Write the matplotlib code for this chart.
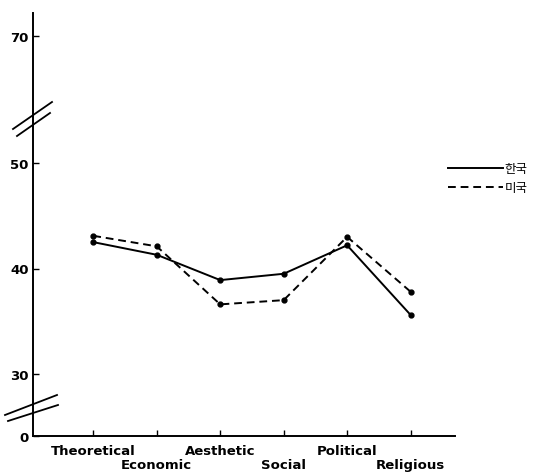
import numpy as np
import matplotlib
matplotlib.use("Agg")
import matplotlib.pyplot as plt
from matplotlib.lines import Line2D

categories = ["Theoretical", "Economic", "Aesthetic", "Social", "Political", "Religious"]
korea = [42.5, 41.3, 38.9, 39.5, 42.2, 35.6]
usa = [43.1, 42.1, 36.6, 37.0, 43.0, 37.8]
series_names = ["한국", "미국"]
ytick_values = [0, 30, 40, 50, 70]

plt.rcParams['font.family'] = ['DejaVu Sans']

# broken axis: piecewise-linear scale (value -> pixel-like units)
vals_k = np.array([0, 30, 50, 70, 100])
pix_k = np.array([0, 62, 273, 400, 590.5])

def fwd(v):
    return np.interp(v, vals_k, pix_k)

def inv(p):
    return np.interp(p, pix_k, vals_k)

W, H = 538, 477
fig = plt.figure(figsize=(W / 100, H / 100), dpi=100)
ax_left, ax_right, ax_top, ax_bot = 33, 455, 14, 437
ax = fig.add_axes([ax_left / W, (H - ax_bot) / H, (ax_right - ax_left) / W, (ax_bot - ax_top) / H])
ax.set_yscale('function', functions=(fwd, inv))

x = np.arange(len(categories))
ax.plot(x, korea, '-', color='black', lw=1.4, marker='o', ms=3.5, label=series_names[0])
ax.plot(x, usa, '--', color='black', lw=1.4, marker='o', ms=3.5, dashes=(4, 2.5), label=series_names[1])

ax.set_xlim(-0.95, 5.7)
ax.set_ylim(0, inv(fwd(70) + 23))
ax.set_yticks(ytick_values)
ax.set_yticklabels([str(v) for v in ytick_values], fontsize=9.5, fontweight='bold')
ax.set_xticks(x)
ax.set_xticklabels([])
for i, c in enumerate(categories):
    off = 0.018 if i % 2 == 0 else 0.052
    ax.text(i, -off, c, transform=ax.get_xaxis_transform(), ha='center', va='top',
            fontsize=9.5, fontweight='bold')
ax.tick_params(direction='in', length=4, width=1, pad=3)
for s in ['top', 'right']:
    ax.spines[s].set_visible(False)
for s in ['left', 'bottom']:
    ax.spines[s].set_linewidth(1.4)

leg = ax.legend(loc='upper left', bbox_to_anchor=(437 / W, 1 - 152 / H), bbox_transform=fig.transFigure,
                frameon=False, handlelength=4.4, handletextpad=0.1, labelspacing=0.45,
                prop={'family': ['Noto Sans CJK KR', 'DejaVu Sans'], 'size': 9})
for h in leg.legend_handles:
    h.set_marker('')

# break marks
def fline(x0, y0, x1, y1):
    fig.add_artist(Line2D([x0 / W, x1 / W], [1 - y0 / H, 1 - y1 / H], transform=fig.transFigure,
                          color='black', lw=1.3))

fline(13, 130, 52, 103)
fline(17, 137, 50, 114)
fline(5, 416, 57, 396)
fline(8, 422, 58, 406)

fig.savefig('out.png', dpi=100)
